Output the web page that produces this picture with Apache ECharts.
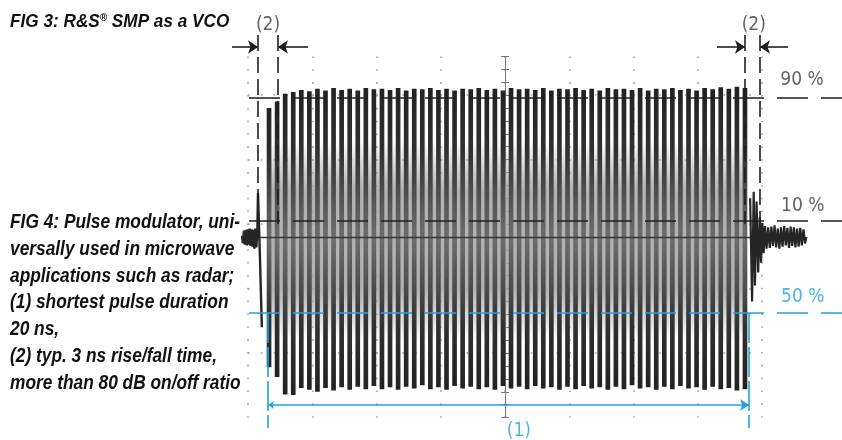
<!DOCTYPE html>
<html><head><meta charset="utf-8">
<script src="https://cdn.jsdelivr.net/npm/echarts@6/dist/echarts.min.js"></script>
<style>html,body{margin:0;padding:0;background:#fff}#c{width:842px;height:440px}</style>
</head><body><div id="c"></div>
<script>
// ---- data (units: oscilloscope divisions, centre of screen = 0) ----
var stripeTop = [2.00, 2.10, 2.22, 2.25, 2.28, 2.26, 2.30, 2.27, 2.31, 2.28, 2.30, 2.27, 2.31, 2.29, 2.30, 2.28, 2.31, 2.27, 2.30, 2.29,
                 2.31, 2.28, 2.30, 2.27, 2.30, 2.29, 2.31, 2.28, 2.30, 2.27, 2.31, 2.29, 2.30, 2.28, 2.31, 2.27, 2.30, 2.29, 2.31, 2.28,
                 2.30, 2.27, 2.31, 2.29, 2.30, 2.28, 2.31, 2.27, 2.30, 2.29, 2.31, 2.28, 2.30, 2.27, 2.31, 2.29, 2.32, 2.30, 2.33, 2.31];
var stripeBottom = [-2.02, -2.17, -2.44, -2.45, -2.34, -2.37, -2.40, -2.34, -2.38, -2.33, -2.37, -2.32, -2.36, -2.31, -2.36, -2.33, -2.37, -2.32, -2.35, -2.30,
                    -2.36, -2.33, -2.37, -2.31, -2.35, -2.32, -2.36, -2.33, -2.37, -2.31, -2.35, -2.32, -2.36, -2.31, -2.35, -2.33, -2.37, -2.32, -2.36, -2.31,
                    -2.35, -2.33, -2.37, -2.32, -2.36, -2.30, -2.35, -2.33, -2.37, -2.32, -2.36, -2.31, -2.35, -2.33, -2.37, -2.32, -2.36, -2.34, -2.38, -2.36];
var leftNoise = [[-4.11, 0.02], [-4.095, -0.10], [-4.08, 0.10], [-4.065, -0.12], [-4.05, 0.11], [-4.035, -0.13], [-4.02, 0.12],
                 [-4.005, -0.12], [-3.99, 0.13], [-3.975, -0.14], [-3.96, 0.12], [-3.945, -0.15], [-3.93, 0.11], [-3.915, -0.18],
                 [-3.90, 0.13], [-3.885, -0.16], [-3.87, 0.10], [-3.86, 0.68], [-3.83, -0.30], [-3.80, -1.40]];
var rightTail = [[3.80, 0.60], [3.83, -1.00], [3.855, 0.70], [3.875, -0.75], [3.90, 0.55], [3.925, -0.55], [3.95, 0.30], [3.97, -0.40],
                 [3.99, 0.22], [4.01, -0.25], [4.03, 0.17], [4.055, -0.18], [4.08, 0.15], [4.105, -0.17], [4.13, 0.16], [4.155, -0.14],
                 [4.18, 0.18], [4.205, -0.16], [4.23, 0.13], [4.255, -0.18], [4.28, 0.15], [4.305, -0.15], [4.33, 0.17], [4.355, -0.13],
                 [4.38, 0.14], [4.405, -0.17], [4.43, 0.16], [4.455, -0.14], [4.48, 0.15], [4.505, -0.16], [4.53, 0.13], [4.555, -0.15],
                 [4.58, 0.14], [4.605, -0.13], [4.63, 0.12], [4.655, -0.10], [4.675, 0.00]];
var levelValues = [2.155, 0.248, -1.178];
var levelLabels = ['90 %', '10 %', '50 %'];
var riseFallEdges = [-3.86, -3.549, 3.72, 3.953];
var pulseEdges = [-3.704, 3.782];
var captionFig3 = ['FIG 3: R&S', '®', ' SMP as a VCO'];
var captionFig4 = ['FIG 4: Pulse modulator, uni-', 'versally used in microwave', 'applications such as radar;',
                   '(1) shortest pulse duration', '20 ns,', '(2) typ. 3 ns rise/fall time,', 'more than 80 dB on/off ratio'];

var BLUE = '#1fa3dc', INK = '#1e1e1e', TXT = '#3a3a3a';
var CAPFONT = "'Liberation Sans', Arial, sans-serif";
var LBLFONT = "'DejaVu Sans Condensed', 'DejaVu Sans', sans-serif";
var chart = echarts.init(document.getElementById('c'), null, {renderer: 'canvas'});

// text condensing factors measured so captions fit the reference widths
var mctx = document.createElement('canvas').getContext('2d');
function textW(t, font) { mctx.font = font; return mctx.measureText(t).width; }
var f4font = 'italic bold 20px ' + CAPFONT;
var f3font = 'italic bold 19px ' + CAPFONT;
var sx4 = 230 / textW(captionFig4[0], f4font);
var sx3 = 212 / textW(captionFig3[0] + captionFig3[2], f3font);

var stripeGrad = new echarts.graphic.LinearGradient(0, 0, 0, 1, [
  {offset: 0, color: '#222'}, {offset: 0.2, color: '#303030'}, {offset: 0.5, color: '#6e6e6e'},
  {offset: 0.8, color: '#303030'}, {offset: 1, color: '#222'}]);

function seg(a, b, color, type) {
  return {coords: [a, b], lineStyle: {color: color, width: 1.6, type: type, opacity: 1}};
}
var levelLines = levelValues.map(function (v, i) {
  return seg([-4.0, v], [5.23, v], i === 2 ? BLUE : INK, [31, 13]);
});
var edgeLines = riseFallEdges.map(function (x) { return seg([x, 3.132], [x, 0.2], INK, [16, 6]); });
var pulseLines = pulseEdges.map(function (x) { return seg([x, -1.178], [x, -2.961], BLUE, [30, 4]); });
var baseLine = [{coords: [[-3.83, 0], [3.8, 0]], lineStyle: {color: '#333', width: 1.3, type: 'solid', opacity: 1}}];

var labelSeriesData = [
  {value: [(riseFallEdges[0] + riseFallEdges[1]) / 2, 3.287], name: '(2)', c: TXT},
  {value: [(riseFallEdges[2] + riseFallEdges[3]) / 2 + 0.02, 3.287], name: '(2)', c: TXT},
  {value: [4.607, 2.434], name: levelLabels[0], c: TXT},
  {value: [4.62, 0.481], name: levelLabels[1], c: TXT},
  {value: [4.62, -0.930], name: levelLabels[2], c: BLUE},
  {value: [0.20, -3.008], name: '(1)', c: BLUE}
].map(function (d) { return {value: d.value, name: d.name, label: {color: d.c}}; });

var Y = {top: 56.4, height: 361.2};
var option = {
  backgroundColor: '#fff',
  animation: false,
  grid: [
    {left: 248, top: Y.top, width: 514, height: Y.height},          // graticule
    {left: 265, top: Y.top, width: 484, height: Y.height},          // burst stripes
    {left: 0, top: 0, width: 842, height: 440}                      // whole screen, same scale
  ],
  xAxis: [
    {type: 'value', gridIndex: 0, min: -4, max: 4, interval: 1,
     axisLine: {show: false}, axisTick: {show: false}, axisLabel: {show: false},
     splitLine: {show: true, lineStyle: {color: '#a0a0a0', width: 1.6, type: [1.6, 11.25]}}},
    {type: 'value', gridIndex: 0, min: -4, max: 4, show: false},
    {type: 'category', gridIndex: 1, data: stripeTop.map(function (v, i) { return String(i + 1); }), show: false},
    {type: 'value', gridIndex: 2, min: -7.8755, max: 5.2296, show: false}
  ],
  yAxis: [
    {type: 'value', gridIndex: 0, min: -2.8, max: 2.8, interval: 1,
     axisLine: {show: true, onZero: true, lineStyle: {color: '#777', width: 1}},
     axisTick: {show: true, length: 4, lineStyle: {color: '#777'}},
     minorTick: {show: true, splitNumber: 5, length: 4, lineStyle: {color: '#777'}},
     axisLabel: {show: false},
     splitLine: {show: true, showMinLine: false, showMaxLine: false, lineStyle: {color: '#a0a0a0', width: 1.6, type: [1.6, 11.25]}}},
    {type: 'value', gridIndex: 0, min: -2.8, max: 2.8, interval: 1, position: 'right',
     axisLine: {show: false, onZero: true, onZeroAxisIndex: 1},
     axisTick: {show: true, length: 4, lineStyle: {color: '#777'}},
     minorTick: {show: true, splitNumber: 5, length: 4, lineStyle: {color: '#777'}},
     axisLabel: {show: false}, splitLine: {show: false}},
    {type: 'value', gridIndex: 1, min: -2.8, max: 2.8, show: false},
    {type: 'value', gridIndex: 2, min: -3.1473, max: 3.6744, show: false}
  ],
  series: [
    {type: 'custom', name: 'burst', xAxisIndex: 2, yAxisIndex: 2, clip: false, z: 3,
     data: stripeTop.map(function (t, i) { return [i, t, stripeBottom[i]]; }),
     encode: {x: 0, y: [1, 2]},
     renderItem: function (params, api) {
       var i = api.value(0);
       var p1 = api.coord([i, api.value(1)]);
       var p2 = api.coord([i, api.value(2)]);
       var w = api.size([1, 0])[0] * 0.58;
       return {type: 'rect', shape: {x: p1[0] - w / 2, y: p1[1], width: w, height: p2[1] - p1[1]},
               style: {fill: stripeGrad}};
     },
     markArea: {silent: true, z: 1,
       itemStyle: {color: new echarts.graphic.LinearGradient(0, 0, 0, 1, [
         {offset: 0, color: 'rgba(165,165,165,0)'}, {offset: 0.25, color: 'rgba(165,165,165,0.85)'},
         {offset: 0.75, color: 'rgba(165,165,165,0.85)'}, {offset: 1, color: 'rgba(165,165,165,0)'}])},
       data: [[{xAxis: 0, yAxis: 1.5}, {xAxis: stripeTop.length - 1, yAxis: -1.6}]]}
    },
    {type: 'line', name: 'noiseLeft', xAxisIndex: 3, yAxisIndex: 3, data: leftNoise, showSymbol: false, z: 4,
     lineStyle: {color: '#262626', width: 2.4}},
    {type: 'line', name: 'tail', xAxisIndex: 3, yAxisIndex: 3, data: rightTail, showSymbol: false, z: 4,
     lineStyle: {color: '#262626', width: 2.2}},
    {type: 'lines', name: 'guides', coordinateSystem: 'cartesian2d', xAxisIndex: 3, yAxisIndex: 3, z: 5, symbol: 'none',
     lineStyle: {opacity: 1},
     data: levelLines.concat(edgeLines, pulseLines, baseLine)},
    {type: 'lines', name: 'arrows', coordinateSystem: 'cartesian2d', xAxisIndex: 3, yAxisIndex: 3, z: 5,
     symbol: ['none', 'arrow'], symbolSize: [7, 10],
     lineStyle: {color: INK, width: 1.6, type: 'solid', opacity: 1},
     data: [{coords: [[-4.265, 2.946], [riseFallEdges[0], 2.946]]}, {coords: [[-3.082, 2.946], [riseFallEdges[1], 2.946]]},
            {coords: [[3.284, 2.946], [riseFallEdges[2], 2.946]]}, {coords: [[4.389, 2.946], [riseFallEdges[3], 2.946]]}]},
    {type: 'lines', name: 'pulseArrow', coordinateSystem: 'cartesian2d', xAxisIndex: 3, yAxisIndex: 3, z: 5,
     symbol: ['arrow', 'arrow'], symbolSize: [6, 9],
     lineStyle: {color: BLUE, width: 1.6, type: 'solid', opacity: 1},
     data: [{coords: [[pulseEdges[0], -2.605], [pulseEdges[1], -2.605]]}]},
    {type: 'scatter', name: 'labels', xAxisIndex: 3, yAxisIndex: 3, symbolSize: 0, z: 6, data: labelSeriesData,
     label: {show: true, position: 'inside', formatter: '{b}', fontFamily: LBLFONT, fontSize: 19}}
  ],
  graphic: [
    {type: 'text', x: 10, y: 21.7, scaleX: sx3, originX: 0,
     style: {text: '{a|' + captionFig3[0] + '}{r|' + captionFig3[1] + '}{a|' + captionFig3[2] + '}', verticalAlign: 'middle',
      rich: {a: {font: f3font, fill: '#111'}, r: {font: 'italic bold 11px ' + CAPFONT, fill: '#111', verticalAlign: 'top'}}}}
  ].concat(captionFig4.map(function (t, i) {
    return {type: 'text', x: 10, y: 222.5 + i * 26.75, scaleX: sx4, originX: 0,
            style: {text: t, font: f4font, fill: '#111', verticalAlign: 'middle'}};
  }))
};
chart.setOption(option);
</script></body></html>
